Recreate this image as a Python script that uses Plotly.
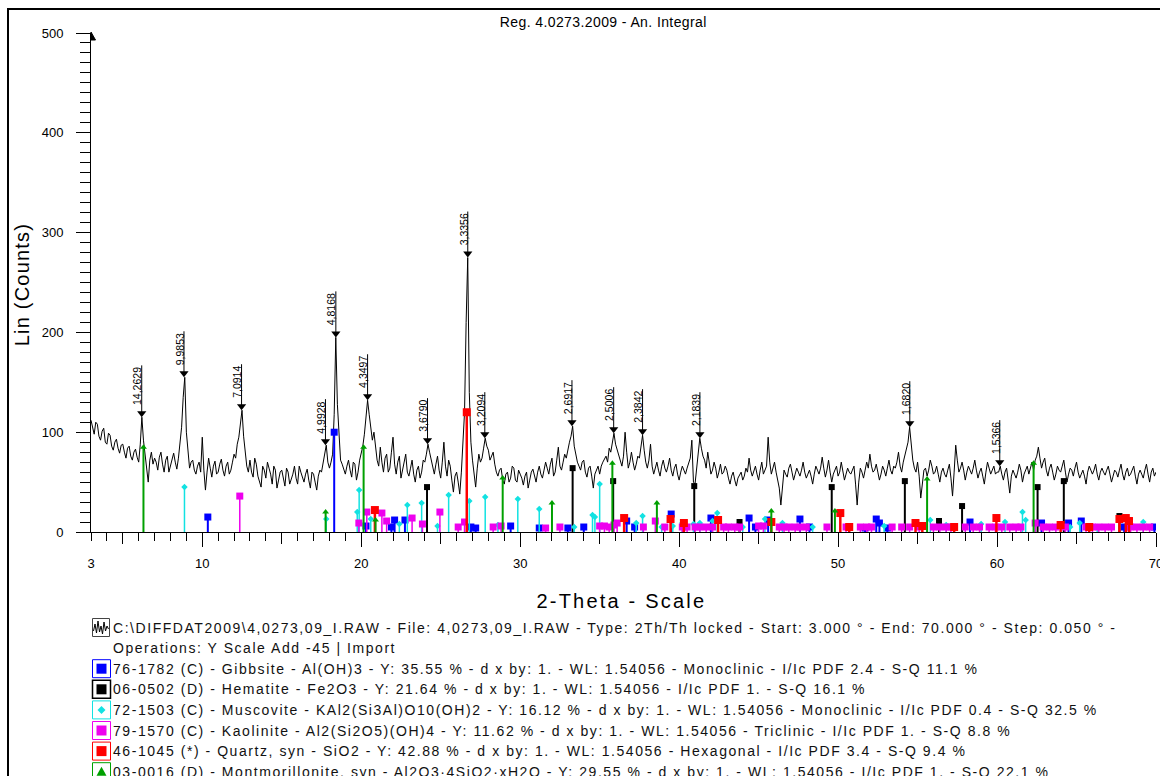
import json
import math
import plotly.graph_objects as go

WAVELENGTH = 1.54056  # Cu K-alpha1, Angstrom

# Step scan (Lin counts) on a 0.1 degree 2-theta grid, 3 -> 70 degrees
scan_start = 3.0
scan_step = 0.1
scan_counts = [
    112, 104, 98, 110, 108, 96, 92, 101, 104, 90, 88, 99, 97, 86, 82, 90, 93, 84, 79, 87,
    88, 80, 74, 84, 86, 76, 72, 80, 83, 75, 70, 88, 115, 92, 78, 66, 50, 72, 80, 68,
    74, 70, 62, 75, 80, 68, 60, 72, 76, 60, 66, 72, 79, 70, 63, 74, 88, 105, 135, 155,
    100, 78, 64, 70, 72, 62, 58, 66, 70, 60, 95, 62, 42, 60, 74, 64, 55, 66, 71, 58,
    60, 68, 73, 62, 56, 66, 70, 58, 62, 70, 78, 74, 88, 95, 108, 122, 96, 80, 66, 60,
    72, 60, 55, 74, 68, 56, 50, 45, 66, 62, 54, 70, 64, 58, 48, 66, 62, 44, 52, 60,
    62, 55, 46, 64, 60, 48, 52, 58, 66, 54, 48, 66, 60, 56, 50, 58, 63, 52, 44, 60,
    58, 50, 42, 56, 62, 60, 70, 78, 87, 70, 64, 70, 78, 118, 195, 128, 95, 72, 68, 62,
    58, 66, 72, 62, 55, 70, 68, 52, 60, 72, 80, 86, 98, 112, 132, 118, 104, 92, 100, 82,
    72, 66, 85, 70, 60, 74, 78, 60, 64, 80, 95, 68, 58, 70, 76, 54, 62, 72, 78, 60,
    56, 64, 72, 58, 50, 62, 66, 54, 60, 72, 70, 78, 88, 80, 72, 64, 58, 68, 76, 62,
    54, 70, 90, 66, 56, 72, 66, 52, 40, 56, 60, 50, 38, 60, 85, 120, 210, 275, 140, 90,
    72, 60, 45, 64, 78, 70, 74, 84, 94, 86, 82, 72, 76, 80, 68, 60, 56, 62, 64, 52,
    48, 58, 60, 50, 54, 66, 64, 52, 50, 62, 58, 54, 47, 56, 60, 44, 52, 60, 63, 55,
    50, 60, 66, 58, 54, 62, 70, 64, 58, 68, 74, 56, 60, 72, 85, 66, 62, 70, 78, 74,
    84, 90, 96, 106, 86, 76, 70, 66, 62, 70, 72, 60, 55, 64, 66, 56, 44, 58, 62, 66,
    58, 66, 70, 74, 76, 70, 84, 80, 90, 99, 88, 82, 78, 72, 66, 76, 100, 80, 64, 70,
    80, 70, 62, 68, 76, 74, 86, 97, 82, 70, 64, 72, 88, 66, 58, 64, 70, 62, 56, 66,
    72, 64, 60, 66, 74, 62, 56, 64, 68, 58, 52, 60, 66, 62, 58, 64, 70, 74, 92, 50,
    48, 66, 78, 94, 84, 76, 72, 64, 80, 68, 58, 62, 70, 64, 54, 60, 68, 58, 60, 66,
    62, 54, 48, 56, 60, 52, 46, 54, 58, 60, 52, 56, 64, 60, 74, 62, 56, 60, 66, 58,
    52, 62, 70, 58, 62, 66, 95, 70, 58, 64, 70, 60, 50, 44, 27, 50, 62, 58, 55, 64,
    68, 60, 52, 58, 64, 60, 56, 62, 70, 60, 54, 58, 62, 56, 48, 58, 66, 62, 58, 64,
    75, 64, 55, 62, 72, 60, 50, 58, 62, 66, 56, 60, 70, 62, 52, 58, 64, 60, 58, 62,
    66, 48, 27, 50, 64, 60, 54, 62, 70, 64, 78, 66, 60, 62, 68, 60, 52, 58, 66, 62,
    56, 64, 72, 62, 58, 66, 64, 70, 80, 66, 60, 70, 76, 82, 90, 105, 84, 72, 64, 60,
    70, 56, 34, 50, 62, 64, 56, 62, 72, 66, 58, 60, 66, 58, 50, 60, 64, 58, 55, 62,
    68, 54, 36, 60, 87, 72, 60, 64, 70, 62, 52, 60, 66, 62, 58, 64, 72, 62, 54, 60,
    64, 56, 48, 60, 70, 64, 58, 62, 66, 58, 60, 60, 66, 58, 52, 60, 64, 52, 39, 56,
    62, 58, 54, 60, 68, 62, 50, 58, 62, 66, 58, 64, 70, 62, 72, 76, 85, 74, 64, 70,
    74, 62, 56, 64, 68, 60, 52, 58, 66, 62, 60, 66, 72, 60, 50, 58, 64, 62, 56, 64,
    70, 60, 54, 58, 62, 56, 48, 60, 66, 62, 58, 62, 68, 58, 52, 60, 64, 60, 57, 62,
    66, 58, 50, 56, 62, 60, 55, 62, 68, 58, 52, 60, 64, 56, 58, 62, 66, 56, 48, 58,
    62, 58, 54, 62, 68, 58, 50, 60, 64, 56, 60,
]

# Peak search results: d-spacing labels (Angstrom) and apex counts
peak_d_labels = ["14,2629", "9,9853", "7,0914", "4,9928", "4,8168", "4,3497", "3,6790",
                 "3,3356", "3,2094", "2,6917", "2,5006", "2,3842", "2,1839", "1,6820", "1,5366"]
peak_counts = [115, 155, 122, 87, 195, 132, 88, 275, 94, 106, 99, 97, 94, 105, 66]

# Reference patterns (2-theta, stick height in counts)
gibbsite_pos = [10.35, 18.30, 20.30, 21.9, 22.1, 22.75, 26.9, 27.2, 29.4, 31.2, 33.0, 34.0, 36.7,
                37.2, 39.5, 42.0, 44.4, 44.8, 45.6, 47.6, 48.2, 51.7, 52.4, 52.6, 53.1, 58.3,
                62.8, 64.5, 65.3, 68.0, 69.9]
gibbsite_h = [15, 100, 6, 5, 12, 12, 5, 4, 6, 4, 4, 5, 11,
              5, 18, 14, 14, 5, 12, 13, 5, 4, 13, 9, 4, 10,
              9, 9, 11, 5, 5]

hematite_pos = [24.14, 33.3, 35.85, 40.95, 43.8, 49.6, 54.2, 56.35, 57.8, 62.55, 64.2, 67.7]
hematite_h = [45, 64, 51, 46, 10, 45, 51, 11, 26, 45, 51, 16]

muscovite_pos = [8.88, 17.8, 19.75, 19.87, 20.6, 22.4, 22.9, 23.8, 24.8, 25.5, 26.8, 27.8, 28.6,
                 29.85, 31.2, 33.4, 34.55, 34.7, 35.0, 37.3, 37.7, 38.9, 39.6, 40.2, 40.9, 41.3,
                 42.1, 42.4, 44.0, 45.4, 46.5, 48.4, 52.9, 55.8, 56.8, 59.0, 60.5, 61.6, 61.8,
                 64.6, 65.2, 66.3, 69.2]
muscovite_h = [45, 13, 20, 42, 13, 8, 27, 29, 6, 37, 31, 35, 7,
               33, 23, 5, 17, 15, 48, 9, 16, 5, 6, 9, 8, 9,
               11, 19, 5, 13, 9, 5, 6, 12, 7, 8, 10, 20, 12,
               5, 9, 5, 10]

kaolinite_pos = [12.36, 19.85, 20.35, 21.3, 21.6, 23.2, 23.85, 24.95, 26.1, 26.5, 28.3, 28.8, 31.6,
                 32.5, 35.0, 35.3, 35.6, 35.9, 36.1, 37.75, 38.5, 39.1, 40.2, 40.5, 41.0, 41.3,
                 41.7, 42.1, 42.8, 43.1, 43.5, 43.8, 45.0, 45.3, 46.3, 46.6, 46.9, 47.3, 47.6,
                 48.0, 49.3, 50.5, 51.4, 51.8, 52.1, 53.4, 54.0, 54.5, 55.1, 56.0, 56.4, 56.8,
                 57.1, 58.0, 58.5, 58.9, 59.5, 59.9, 60.3, 60.8, 61.2, 61.5, 62.4, 62.9, 63.3,
                 63.7, 64.3, 65.6, 66.0, 66.4, 66.8, 67.2, 68.4, 68.8, 69.2, 69.6]
kaolinite_h = [36, 9, 20, 19, 11, 14, 8, 20, 5, 10, 5, 6, 4,
               5, 6, 6, 5, 7, 9, 5, 11, 5, 5, 5, 5, 5,
               5, 5, 5, 5, 5, 5, 6, 6, 5, 5, 5, 5, 5,
               5, 5, 5, 5, 5, 5, 5, 5, 5, 5, 5, 5, 5,
               5, 5, 5, 5, 5, 5, 5, 5, 5, 5, 9, 5, 5,
               5, 5, 5, 5, 5, 5, 5, 5, 5, 5, 5]

quartz_pos = [20.86, 26.64, 36.54, 39.46, 40.3, 42.45, 45.8, 50.14, 50.7, 54.87, 55.3, 57.3,
              59.96, 64.0, 65.8, 67.7, 68.1, 68.3]
quartz_h = [22, 120, 14, 13, 9, 12, 10, 19, 5, 9, 6, 5,
            14, 7, 5, 13, 14, 11]

montmorillonite_pos = [6.3, 17.76, 20.15, 20.9, 28.9, 32.0, 35.8, 38.6, 45.8, 49.8, 55.6, 62.3]
montmorillonite_h = [85, 20, 85, 12, 54, 29, 69, 29, 21, 21, 53, 69]

legend_lines = [
    "C:\\DIFFDAT2009\\4,0273,09_I.RAW - File: 4,0273,09_I.RAW - Type: 2Th/Th locked - Start: 3.000 \u00b0 - End: 70.000 \u00b0 - Step: 0.050 \u00b0 -",
    "Operations: Y Scale Add -45 | Import",
    "76-1782 (C) - Gibbsite - Al(OH)3 - Y: 35.55 % - d x by: 1. - WL: 1.54056 - Monoclinic - I/Ic PDF 2.4 - S-Q 11.1 %",
    "06-0502 (D) - Hematite - Fe2O3 - Y: 21.64 % - d x by: 1. - WL: 1.54056 - I/Ic PDF 1. - S-Q 16.1 %",
    "72-1503 (C) - Muscovite - KAl2(Si3Al)O10(OH)2 - Y: 16.12 % - d x by: 1. - WL: 1.54056 - Monoclinic - I/Ic PDF 0.4 - S-Q 32.5 %",
    "79-1570 (C) - Kaolinite - Al2(Si2O5)(OH)4 - Y: 11.62 % - d x by: 1. - WL: 1.54056 - Triclinic - I/Ic PDF 1. - S-Q 8.8 %",
    "46-1045 (*) - Quartz, syn - SiO2 - Y: 42.88 % - d x by: 1. - WL: 1.54056 - Hexagonal - I/Ic PDF 3.4 - S-Q 9.4 %",
    "03-0016 (D) - Montmorillonite, syn - Al2O3\u00b74SiO2\u00b7xH2O - Y: 29.55 % - d x by: 1. - WL: 1.54056 - I/Ic PDF 1. - S-Q 22.1 %",
]

# ---------------------------------------------------------------- geometry
W, H = 1160, 776
ML, MR, MT, MB = 91, 4, 33, 244
PW, PH = W - ML - MR, H - MT - MB
FONT = "Liberation Sans, Arial, sans-serif"


def fx(px):
    return (px - ML) / PW


def fy(py):
    return (H - MB - py) / PH


two_theta = [round(scan_start + scan_step * i, 2) for i in range(len(scan_counts))]
peak_2theta = [2 * math.degrees(math.asin(WAVELENGTH / (2 * float(d.replace(",", ".")))))
               for d in peak_d_labels]

fig = go.Figure()

# measured pattern
fig.add_trace(go.Scatter(x=two_theta, y=scan_counts, mode="lines",
                         line=dict(color="black", width=1), hoverinfo="skip"))

phases = [
    ("Gibbsite", gibbsite_pos, gibbsite_h, "#0000ff", "square", 7, 2),
    ("Hematite", hematite_pos, hematite_h, "#000000", "square", 6, 2),
    ("Muscovite", muscovite_pos, muscovite_h, "#12e2e2", "diamond", 5, 1.5),
    ("Kaolinite", kaolinite_pos, kaolinite_h, "#ee00ee", "square", 7, 1.5),
    ("Quartz", quartz_pos, quartz_h, "#ff0000", "square", 8, 2.5),
    ("Montmorillonite", montmorillonite_pos, montmorillonite_h, "#00a000", "triangle-up", 6, 2),
]

for name, pos, hts, col, sym, msize, lw in phases:
    xs, ys = [], []
    for p, h in zip(pos, hts):
        xs += [p, p, None]
        ys += [0, h, None]
    fig.add_trace(go.Scatter(x=xs, y=ys, mode="lines", line=dict(color=col, width=lw),
                             hoverinfo="skip", name=name))
    fig.add_trace(go.Scatter(x=pos, y=hts, mode="markers", hoverinfo="skip", name=name,
                             marker=dict(symbol=sym, size=msize, color=col, line=dict(width=0))))

# peak markers with their label leaders
LABEL_GAP = 11
lx, ly = [], []
for t, c, lab in zip(peak_2theta, peak_counts, peak_d_labels):
    text_len = 5.84 * (len(lab) - 1) + 2.92
    lx += [t, t, None]
    ly += [c + 5, c + LABEL_GAP + text_len + 3, None]
fig.add_trace(go.Scatter(x=lx, y=ly, mode="lines", line=dict(color="black", width=1),
                         hoverinfo="skip"))
fig.add_trace(go.Scatter(x=peak_2theta, y=[c + 4 for c in peak_counts], mode="markers",
                         marker=dict(symbol="triangle-down", size=8, color="black"),
                         hoverinfo="skip"))

# empty traces carrying the overlay tick axes
for ax in ("x2", "x3", "x4"):
    fig.add_trace(go.Scatter(x=[], y=[], xaxis=ax, yaxis="y", hoverinfo="skip"))

annotations = []
for t, c, lab in zip(peak_2theta, peak_counts, peak_d_labels):
    annotations.append(dict(x=t, y=c + LABEL_GAP, xref="x", yref="y", text=lab, showarrow=False,
                            textangle=-90, xanchor="right", yanchor="bottom", xshift=3,
                            borderpad=0, font=dict(family=FONT, size=10.5, color="black")))

spacing = {}

# chart title
spacing[len(annotations)] = 0.4
annotations.append(dict(x=fx(603), y=fy(22), xref="paper", yref="paper",
                        text="Reg. 4.0273.2009 - An. Integral", showarrow=False,
                        xanchor="center", yanchor="middle",
                        font=dict(family=FONT, size=14, color="black")))
# axis titles
spacing[len(annotations)] = 2.2
annotations.append(dict(x=fx(621), y=fy(601), xref="paper", yref="paper",
                        text="2-Theta - Scale", showarrow=False,
                        xanchor="center", yanchor="middle",
                        font=dict(family=FONT, size=20, color="black")))
spacing[len(annotations)] = 1.2
annotations.append(dict(x=fx(22), y=fy(285), xref="paper", yref="paper",
                        text="Lin (Counts)", showarrow=False, textangle=-90,
                        xanchor="center", yanchor="middle",
                        font=dict(family=FONT, size=20, color="black")))

# legend text
LEG_Y0, LEG_DY = 627.5, 20.6
for i, line in enumerate(legend_lines):
    spacing[len(annotations)] = 1.55
    annotations.append(dict(x=fx(111), y=fy(LEG_Y0 + i * LEG_DY), xref="paper", yref="paper",
                            text=line, showarrow=False, xanchor="left", yanchor="middle",
                            align="left", font=dict(family=FONT, size=14, color="#111111")))

shapes = []
# outer frame
shapes.append(dict(type="rect", xref="paper", yref="paper", x0=fx(8), y0=fy(9), x1=fx(1400),
                   y1=fy(900), line=dict(color="black", width=2)))
# arrow head on the count axis
shapes.append(dict(type="path", xref="paper", yref="paper",
                   path=f"M {fx(91)},{fy(32)} L {fx(95.5)},{fy(40)} L {fx(91)},{fy(40)} Z",
                   fillcolor="black", line=dict(color="black", width=1)))

# legend icons
cy = LEG_Y0
shapes.append(dict(type="rect", xref="paper", yref="paper", x0=fx(92.5), x1=fx(109.5),
                   y0=fy(cy - 9), y1=fy(cy + 9), line=dict(color="#444444", width=1)))
zig = [(93.5, 631), (95, 624), (96.5, 633), (98, 621), (99.5, 632), (101, 626), (102.5, 634),
       (104, 622), (105.5, 631), (107, 626), (108.5, 629)]
zig_path = "M " + " L ".join(f"{fx(a)},{fy(b + cy - 627.5)}" for a, b in zig)
shapes.append(dict(type="path", xref="paper", yref="paper", path=zig_path,
                   line=dict(color="black", width=1)))

for i, (name, pos, hts, col, sym, msize, lw) in enumerate(phases):
    cy = LEG_Y0 + (i + 2) * LEG_DY
    shapes.append(dict(type="rect", xref="paper", yref="paper", x0=fx(92.5), x1=fx(110.5),
                       y0=fy(cy - 9), y1=fy(cy + 9),
                       line=dict(color=col, width=1.5 if name == "Hematite" else 1)))
    if sym == "square":
        shapes.append(dict(type="rect", xref="paper", yref="paper", x0=fx(96.5), x1=fx(106.5),
                           y0=fy(cy - 5), y1=fy(cy + 5), fillcolor=col, line=dict(width=0)))
    elif sym == "diamond":
        p = f"M {fx(101.5)},{fy(cy - 4)} L {fx(105.5)},{fy(cy)} L {fx(101.5)},{fy(cy + 4)} L {fx(97.5)},{fy(cy)} Z"
        shapes.append(dict(type="path", xref="paper", yref="paper", path=p, fillcolor=col,
                           line=dict(width=0)))
    else:
        p = f"M {fx(101.5)},{fy(cy - 5)} L {fx(106.5)},{fy(cy + 4)} L {fx(96.5)},{fy(cy + 4)} Z"
        shapes.append(dict(type="path", xref="paper", yref="paper", path=p, fillcolor=col,
                           line=dict(width=0)))

tick_font = dict(family=FONT, size=13, color="black")
common_overlay = dict(overlaying="x", anchor="y", range=[3, 70], tickmode="array",
                      ticks="outside", tickwidth=1, tickcolor="black", showticklabels=False,
                      showline=False, showgrid=False, zeroline=False, automargin=False)

fig.update_layout(
    width=W, height=H,
    margin=dict(l=ML, r=MR, t=MT, b=MB, pad=0, autoexpand=False),
    paper_bgcolor="white", plot_bgcolor="white",
    showlegend=False,
    xaxis=dict(range=[3, 70], tickmode="array", tickvals=[3, 10, 20, 30, 40, 50, 60, 70],
               ticktext=["3", "10", "20", "30", "40", "50", "60", "70"],
               ticks="outside", ticklen=14, tickcolor="rgba(0,0,0,0)", ticklabelstandoff=5,
               ticklabeloverflow="allow", automargin=False,
               showline=True, linecolor="black", linewidth=1, showgrid=False, zeroline=False,
               tickfont=tick_font),
    xaxis2=dict(common_overlay, tickvals=list(range(3, 71)), ticklen=8),
    xaxis3=dict(common_overlay, tickvals=list(range(5, 70, 10)), ticklen=11),
    xaxis4=dict(common_overlay, tickvals=list(range(10, 71, 10)), ticklen=14),
    yaxis=dict(range=[0, 500], tickmode="linear", tick0=0, dtick=100, ticks="outside",
               ticklen=14, tickcolor="black", ticklabelstandoff=10, automargin=False,
               minor=dict(tickmode="linear", tick0=0, dtick=10, ticks="outside", ticklen=10,
                          tickcolor="black", tickwidth=1),
               showline=True, linecolor="black", linewidth=1, showgrid=False, zeroline=False,
               tickfont=tick_font),
    annotations=annotations,
    shapes=shapes,
)

post = """
var gd = document.getElementById('{plot_id}');
var spacing = %s;
gd.querySelectorAll('g.annotation').forEach(function (g) {
  var k = g.getAttribute('data-index');
  if (spacing[k] !== undefined) {
    g.querySelectorAll('text').forEach(function (t) { t.style.letterSpacing = spacing[k] + 'px'; });
  }
});
""" % json.dumps({str(k): v for k, v in spacing.items()})

fig.write_html("out.html", post_script=post)
